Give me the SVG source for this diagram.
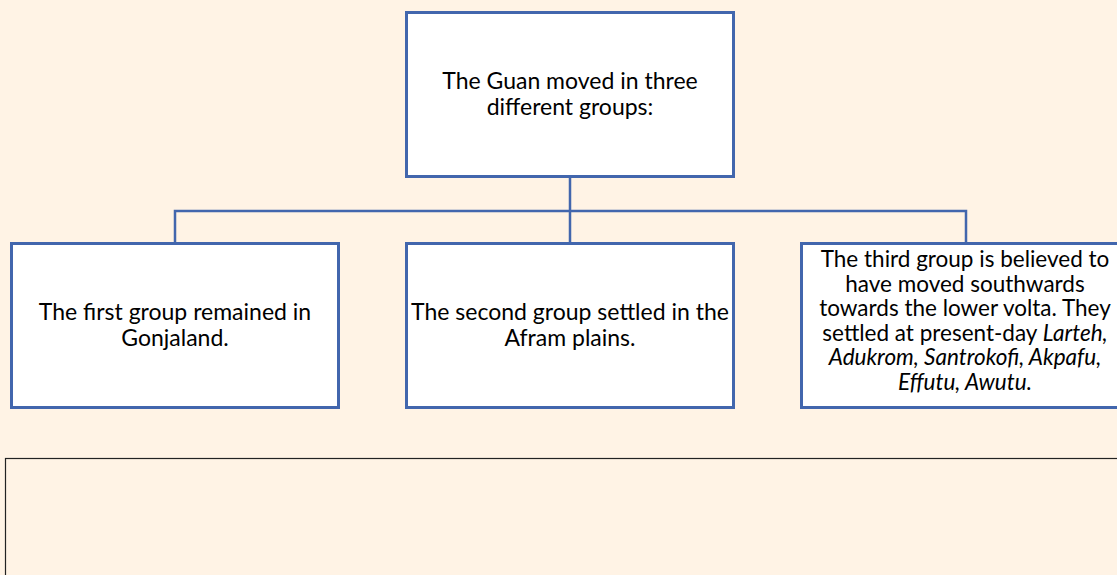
<svg xmlns="http://www.w3.org/2000/svg" width="1117" height="575" viewBox="0 0 1117 575">
<style>
.box{fill:#ffffff;stroke:#4266ad;stroke-width:3}
.con{fill:none;stroke:#4266ad;stroke-width:2.5}
text{font-family:"Lato","Open Sans",sans-serif;font-size:23px;fill:#000;text-anchor:middle}
.t3{font-size:22.5px}
.i{font-style:italic}
</style>
<rect x="0" y="0" width="1117" height="575" fill="#fff3e5"/>
<g id="connectors">
<path class="con" d="M570,177 V243 M175,243 V211 H966 V243"/>
</g>
<g id="node-top">
<rect class="box" x="406.5" y="12.5" width="327" height="164"/>
<text x="570" y="89">The Guan moved in three</text>
<text x="570" y="115">different groups:</text>
</g>
<g id="node-first">
<rect class="box" x="11.5" y="243.5" width="327" height="164"/>
<text x="175" y="320">The first group remained in</text>
<text x="175" y="346">Gonjaland.</text>
</g>
<g id="node-second">
<rect class="box" x="406.5" y="243.5" width="327" height="164"/>
<text x="570" y="320">The second group settled in the</text>
<text x="570" y="346">Afram plains.</text>
</g>
<g id="node-third">
<rect class="box" x="801.5" y="243.5" width="330" height="164"/>
<text class="t3" x="965" y="267">The third group is believed to</text>
<text class="t3" x="965" y="291.5">have moved southwards</text>
<text class="t3" x="965" y="316">towards the lower volta. They</text>
<text class="t3" x="965" y="340.5">settled at present-day <tspan class="i">Larteh,</tspan></text>
<text class="t3 i" x="965" y="365">Adukrom, Santrokofi, Akpafu,</text>
<text class="t3 i" x="965" y="389.5">Effutu, Awutu.</text>
</g>
<g id="node-bottom">
<rect x="5.5" y="458.5" width="1120" height="130" fill="none" stroke="#222" stroke-width="1.2"/>
</g>
</svg>
